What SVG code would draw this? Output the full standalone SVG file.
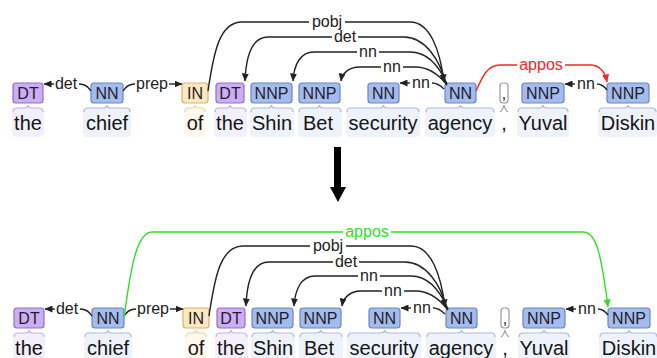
<svg xmlns="http://www.w3.org/2000/svg" width="657" height="358" viewBox="0 0 657 358">
  <style>
    .bg-dt { fill: #f4effd; }
    .bg-nn { fill: #eef2fb; }
    .bg-in { fill: #fff8ec; }
    .br { fill: none; stroke-width: 1.2; }
    .br-dt { stroke: #c6b0e8; }
    .br-nn { stroke: #aabadd; }
    .br-in { stroke: #ecd2a4; }
    .br-pu { stroke: #999999; }
    .box { stroke-width: 1.2; }
    .box-dt { fill: #ccadf6; stroke: #9270c9; }
    .box-nn { fill: #a4bced; stroke: #6a85c6; }
    .box-in { fill: #ffe8be; stroke: #d6b170; }
    .box-pu { fill: #ffffff; stroke: #999999; }
    .tag { font-family: "Liberation Sans", Arial, sans-serif; font-size: 16px; text-anchor: middle; fill: #1e1e2a; }
    .word { font-family: "Liberation Sans", Arial, sans-serif; font-size: 20px; text-anchor: middle; fill: #151515; }
    .arc { fill: none; stroke: #222222; stroke-width: 1.4; }
    .arc-red { stroke: #ff2222; }
    .arc-green { stroke: #33dd22; }
    .lbl { font-family: "Liberation Sans", Arial, sans-serif; font-size: 16px; text-anchor: middle; fill: #222222; }
    .lbl-red { fill: #ff2222; }
    .lbl-green { fill: #33dd22; }
  </style>
  <defs>
    <marker id="ah" viewBox="0 0 8 7" refX="7.5" refY="3.5" markerWidth="8" markerHeight="7" markerUnits="userSpaceOnUse" orient="auto">
      <path d="M0 0 L8 3.5 L0 7 z" fill="#222222"/>
    </marker>
    <marker id="ah-red" viewBox="0 0 8 7" refX="7.5" refY="3.5" markerWidth="8" markerHeight="7" markerUnits="userSpaceOnUse" orient="auto">
      <path d="M0 0 L8 3.5 L0 7 z" fill="#ff2222"/>
    </marker>
    <marker id="ah-green" viewBox="0 0 8 7" refX="7.5" refY="3.5" markerWidth="8" markerHeight="7" markerUnits="userSpaceOnUse" orient="auto">
      <path d="M0 0 L8 3.5 L0 7 z" fill="#33dd22"/>
    </marker>
  </defs>

  <!-- ===== Sentence before the transformation ===== -->
  <g id="before">
    <g id="a-the1">
      <rect class="bg-dt" x="12" y="108" width="32" height="29" rx="4"/>
      <path class="br br-dt" d="M13 112 Q13 108 17 108 L24 108 Q28 108 28 105 Q28 108 32 108 L39 108 Q43 108 43 112"/>
      <rect class="box box-dt" x="13" y="83" width="30" height="20" rx="3"/>
      <text class="tag" x="28" y="99">DT</text>
      <text class="word" x="28" y="130">the</text>
    </g>
    <g id="a-chief">
      <rect class="bg-nn" x="83" y="108" width="48" height="29" rx="4"/>
      <path class="br br-nn" d="M84 112 Q84 108 88 108 L103 108 Q107 108 107 105 Q107 108 111 108 L126 108 Q130 108 130 112"/>
      <rect class="box box-nn" x="91" y="83" width="32" height="20" rx="3"/>
      <text class="tag" x="107" y="99">NN</text>
      <text class="word" x="107" y="130">chief</text>
    </g>
    <g id="a-of">
      <rect class="bg-in" x="184" y="108" width="22" height="29" rx="4"/>
      <path class="br br-in" d="M185 112 Q185 108 189 108 L191 108 Q195 108 195 105 Q195 108 199 108 L201 108 Q205 108 205 112"/>
      <rect class="box box-in" x="182" y="83" width="26" height="20" rx="3"/>
      <text class="tag" x="195" y="99">IN</text>
      <text class="word" x="195" y="130">of</text>
    </g>
    <g id="a-the2">
      <rect class="bg-dt" x="214" y="108" width="33" height="29" rx="4"/>
      <path class="br br-dt" d="M215 112 Q215 108 219 108 L226 108 Q230 108 230 105 Q230 108 234 108 L242 108 Q246 108 246 112"/>
      <rect class="box box-dt" x="216" y="83" width="28" height="20" rx="3"/>
      <text class="tag" x="230" y="99">DT</text>
      <text class="word" x="230" y="130">the</text>
    </g>
    <g id="a-shin">
      <rect class="bg-nn" x="250" y="108" width="44" height="29" rx="4"/>
      <path class="br br-nn" d="M251 112 Q251 108 255 108 L267.5 108 Q271.5 108 271.5 105 Q271.5 108 275.5 108 L289 108 Q293 108 293 112"/>
      <rect class="box box-nn" x="251" y="83" width="41" height="20" rx="3"/>
      <text class="tag" x="271.5" y="99">NNP</text>
      <text class="word" x="272" y="130">Shin</text>
    </g>
    <g id="a-bet">
      <rect class="bg-nn" x="298" y="108" width="44" height="29" rx="4"/>
      <path class="br br-nn" d="M299 112 Q299 108 303 108 L315.5 108 Q319.5 108 319.5 105 Q319.5 108 323.5 108 L337 108 Q341 108 341 112"/>
      <rect class="box box-nn" x="299" y="83" width="41" height="20" rx="3"/>
      <text class="tag" x="319.5" y="99">NNP</text>
      <text class="word" x="318" y="130">Bet</text>
    </g>
    <g id="a-security">
      <rect class="bg-nn" x="346" y="108" width="74" height="29" rx="4"/>
      <path class="br br-nn" d="M347 112 Q347 108 351 108 L379.5 108 Q383.5 108 383.5 105 Q383.5 108 387.5 108 L415 108 Q419 108 419 112"/>
      <rect class="box box-nn" x="368" y="83" width="31" height="20" rx="3"/>
      <text class="tag" x="383.5" y="99">NN</text>
      <text class="word" x="383" y="130">security</text>
    </g>
    <g id="a-agency">
      <rect class="bg-nn" x="425" y="108" width="70" height="29" rx="4"/>
      <path class="br br-nn" d="M426 112 Q426 108 430 108 L456.5 108 Q460.5 108 460.5 105 Q460.5 108 464.5 108 L490 108 Q494 108 494 112"/>
      <rect class="box box-nn" x="445" y="83" width="31" height="20" rx="3"/>
      <text class="tag" x="460.5" y="99">NN</text>
      <text class="word" x="460" y="130">agency</text>
    </g>
    <g id="a-comma">
      <path class="br br-pu" d="M500 112 Q503 110 504 105 Q505 110 508 112"/>
      <rect class="box box-pu" x="500" y="83" width="8" height="20" rx="3"/>
      <text class="tag" x="504" y="99">,</text>
      <text class="word" x="504" y="130">,</text>
    </g>
    <g id="a-yuval">
      <rect class="bg-nn" x="517" y="108" width="52" height="29" rx="4"/>
      <path class="br br-nn" d="M518 112 Q518 108 522 108 L539 108 Q543 108 543 105 Q543 108 547 108 L564 108 Q568 108 568 112"/>
      <rect class="box box-nn" x="522" y="83" width="42" height="20" rx="3"/>
      <text class="tag" x="543" y="99">NNP</text>
      <text class="word" x="543" y="130">Yuval</text>
    </g>
    <g id="a-diskin">
      <rect class="bg-nn" x="598" y="108" width="59" height="29" rx="4"/>
      <path class="br br-nn" d="M599 112 Q599 108 603 108 L624 108 Q628 108 628 105 Q628 108 632 108 L652 108 Q656 108 656 112"/>
      <rect class="box box-nn" x="607" y="83" width="42" height="20" rx="3"/>
      <text class="tag" x="628" y="99">NNP</text>
      <text class="word" x="628" y="130">Diskin</text>
    </g>
  </g>

  <g id="before-arcs">
    <!-- det: chief -> the -->
    <path class="arc" d="M91 91 C88 86 84 84 79 84"/>
    <path class="arc" d="M54 84 L44 84" marker-end="url(#ah)"/>
    <text class="lbl" x="66" y="89">det</text>
    <!-- prep: chief -> of -->
    <path class="arc" d="M123 91 C126 86 130 84 135 84"/>
    <path class="arc" d="M169 84 L182 84" marker-end="url(#ah)"/>
    <text class="lbl" x="152" y="89">prep</text>
    <!-- pobj: of -> agency -->
    <path class="arc" d="M208 91 C214 50 220 22 242 22 L309 22"/>
    <path class="arc" d="M345 22 L410 22 C430 22 440 50 444 82" marker-end="url(#ah)"/>
    <text class="lbl" x="327" y="27">pobj</text>
    <!-- det: agency -> the -->
    <path class="arc" d="M332 37 L268 37 C252 37 246 55 245 81" marker-end="url(#ah)"/>
    <path class="arc" d="M358 37 L404 37 C425 37 440 60 446 84"/>
    <text class="lbl" x="345" y="42">det</text>
    <!-- nn: agency -> Shin -->
    <path class="arc" d="M357 52 L314 52 C300 52 294 65 293 81" marker-end="url(#ah)"/>
    <path class="arc" d="M379 52 L410 52 C428 52 440 68 447 84"/>
    <text class="lbl" x="368" y="57">nn</text>
    <!-- nn: agency -> Bet -->
    <path class="arc" d="M381 67 L360 67 C348 67 342 74 341 81" marker-end="url(#ah)"/>
    <path class="arc" d="M403 67 L415 67 C430 67 440 76 447 85"/>
    <text class="lbl" x="392" y="72">nn</text>
    <!-- nn: agency -> security -->
    <path class="arc" d="M410 83 L400 83" marker-end="url(#ah)"/>
    <path class="arc" d="M432 83 C437 83 441 86 444 89"/>
    <text class="lbl" x="421" y="88">nn</text>
    <!-- appos: agency -> Diskin -->
    <path class="arc arc-red" d="M476 91 C483 75 488 65 500 65 L517 65"/>
    <path class="arc arc-red" d="M565 65 L590 65 C600 65 605 72 607 82" marker-end="url(#ah-red)"/>
    <text class="lbl lbl-red" x="541" y="70">appos</text>
    <!-- nn: Diskin -> Yuval -->
    <path class="arc" d="M607 90 C604 86 601 84 597 84"/>
    <path class="arc" d="M575 84 L565 84" marker-end="url(#ah)"/>
    <text class="lbl" x="586" y="89">nn</text>
  </g>

  <!-- transformation arrow -->
  <path id="transform-arrow" d="M334 147 H341 V187 H346 L338 202 L330 187 H334 Z" fill="#000000"/>

  <!-- ===== Sentence after the transformation ===== -->
  <g id="after" transform="translate(1,225)">
    <g id="b-the1">
      <rect class="bg-dt" x="12" y="108" width="32" height="29" rx="4"/>
      <path class="br br-dt" d="M13 112 Q13 108 17 108 L24 108 Q28 108 28 105 Q28 108 32 108 L39 108 Q43 108 43 112"/>
      <rect class="box box-dt" x="13" y="83" width="30" height="20" rx="3"/>
      <text class="tag" x="28" y="99">DT</text>
      <text class="word" x="28" y="130">the</text>
    </g>
    <g id="b-chief">
      <rect class="bg-nn" x="83" y="108" width="48" height="29" rx="4"/>
      <path class="br br-nn" d="M84 112 Q84 108 88 108 L103 108 Q107 108 107 105 Q107 108 111 108 L126 108 Q130 108 130 112"/>
      <rect class="box box-nn" x="91" y="83" width="32" height="20" rx="3"/>
      <text class="tag" x="107" y="99">NN</text>
      <text class="word" x="107" y="130">chief</text>
    </g>
    <g id="b-of">
      <rect class="bg-in" x="184" y="108" width="22" height="29" rx="4"/>
      <path class="br br-in" d="M185 112 Q185 108 189 108 L191 108 Q195 108 195 105 Q195 108 199 108 L201 108 Q205 108 205 112"/>
      <rect class="box box-in" x="182" y="83" width="26" height="20" rx="3"/>
      <text class="tag" x="195" y="99">IN</text>
      <text class="word" x="195" y="130">of</text>
    </g>
    <g id="b-the2">
      <rect class="bg-dt" x="214" y="108" width="33" height="29" rx="4"/>
      <path class="br br-dt" d="M215 112 Q215 108 219 108 L226 108 Q230 108 230 105 Q230 108 234 108 L242 108 Q246 108 246 112"/>
      <rect class="box box-dt" x="216" y="83" width="28" height="20" rx="3"/>
      <text class="tag" x="230" y="99">DT</text>
      <text class="word" x="230" y="130">the</text>
    </g>
    <g id="b-shin">
      <rect class="bg-nn" x="250" y="108" width="44" height="29" rx="4"/>
      <path class="br br-nn" d="M251 112 Q251 108 255 108 L267.5 108 Q271.5 108 271.5 105 Q271.5 108 275.5 108 L289 108 Q293 108 293 112"/>
      <rect class="box box-nn" x="251" y="83" width="41" height="20" rx="3"/>
      <text class="tag" x="271.5" y="99">NNP</text>
      <text class="word" x="272" y="130">Shin</text>
    </g>
    <g id="b-bet">
      <rect class="bg-nn" x="298" y="108" width="44" height="29" rx="4"/>
      <path class="br br-nn" d="M299 112 Q299 108 303 108 L315.5 108 Q319.5 108 319.5 105 Q319.5 108 323.5 108 L337 108 Q341 108 341 112"/>
      <rect class="box box-nn" x="299" y="83" width="41" height="20" rx="3"/>
      <text class="tag" x="319.5" y="99">NNP</text>
      <text class="word" x="318" y="130">Bet</text>
    </g>
    <g id="b-security">
      <rect class="bg-nn" x="346" y="108" width="74" height="29" rx="4"/>
      <path class="br br-nn" d="M347 112 Q347 108 351 108 L379.5 108 Q383.5 108 383.5 105 Q383.5 108 387.5 108 L415 108 Q419 108 419 112"/>
      <rect class="box box-nn" x="368" y="83" width="31" height="20" rx="3"/>
      <text class="tag" x="383.5" y="99">NN</text>
      <text class="word" x="383" y="130">security</text>
    </g>
    <g id="b-agency">
      <rect class="bg-nn" x="425" y="108" width="70" height="29" rx="4"/>
      <path class="br br-nn" d="M426 112 Q426 108 430 108 L456.5 108 Q460.5 108 460.5 105 Q460.5 108 464.5 108 L490 108 Q494 108 494 112"/>
      <rect class="box box-nn" x="445" y="83" width="31" height="20" rx="3"/>
      <text class="tag" x="460.5" y="99">NN</text>
      <text class="word" x="460" y="130">agency</text>
    </g>
    <g id="b-comma">
      <path class="br br-pu" d="M500 112 Q503 110 504 105 Q505 110 508 112"/>
      <rect class="box box-pu" x="500" y="83" width="8" height="20" rx="3"/>
      <text class="tag" x="504" y="99">,</text>
      <text class="word" x="504" y="130">,</text>
    </g>
    <g id="b-yuval">
      <rect class="bg-nn" x="517" y="108" width="52" height="29" rx="4"/>
      <path class="br br-nn" d="M518 112 Q518 108 522 108 L539 108 Q543 108 543 105 Q543 108 547 108 L564 108 Q568 108 568 112"/>
      <rect class="box box-nn" x="522" y="83" width="42" height="20" rx="3"/>
      <text class="tag" x="543" y="99">NNP</text>
      <text class="word" x="543" y="130">Yuval</text>
    </g>
    <g id="b-diskin">
      <rect class="bg-nn" x="598" y="108" width="59" height="29" rx="4"/>
      <path class="br br-nn" d="M599 112 Q599 108 603 108 L624 108 Q628 108 628 105 Q628 108 632 108 L652 108 Q656 108 656 112"/>
      <rect class="box box-nn" x="607" y="83" width="42" height="20" rx="3"/>
      <text class="tag" x="628" y="99">NNP</text>
      <text class="word" x="628" y="130">Diskin</text>
    </g>

    <g id="after-arcs">
      <path class="arc" d="M91 91 C88 86 84 84 79 84"/>
      <path class="arc" d="M54 84 L44 84" marker-end="url(#ah)"/>
      <text class="lbl" x="66" y="89">det</text>
      <path class="arc" d="M123 91 C126 86 130 84 135 84"/>
      <path class="arc" d="M169 84 L182 84" marker-end="url(#ah)"/>
      <text class="lbl" x="152" y="89">prep</text>
      <path class="arc" d="M208 91 C214 50 220 21 242 21 L309 21"/>
      <path class="arc" d="M345 21 L410 21 C430 21 440 50 444 82" marker-end="url(#ah)"/>
      <text class="lbl" x="327" y="26">pobj</text>
      <path class="arc" d="M332 37 L268 37 C252 37 246 55 245 81" marker-end="url(#ah)"/>
      <path class="arc" d="M358 37 L404 37 C425 37 440 60 446 84"/>
      <text class="lbl" x="345" y="42">det</text>
      <path class="arc" d="M357 51 L314 51 C300 51 294 65 293 81" marker-end="url(#ah)"/>
      <path class="arc" d="M379 51 L410 51 C428 51 440 68 447 84"/>
      <text class="lbl" x="368" y="56">nn</text>
      <path class="arc" d="M381 66 L360 66 C348 66 342 74 341 81" marker-end="url(#ah)"/>
      <path class="arc" d="M403 66 L415 66 C430 66 440 76 447 85"/>
      <text class="lbl" x="392" y="71">nn</text>
      <path class="arc" d="M410 83 L400 83" marker-end="url(#ah)"/>
      <path class="arc" d="M432 83 C437 83 441 86 444 89"/>
      <text class="lbl" x="421" y="88">nn</text>
      <path class="arc" d="M607 90 C604 86 601 84 597 84"/>
      <path class="arc" d="M575 84 L565 84" marker-end="url(#ah)"/>
      <text class="lbl" x="586" y="89">nn</text>
      <!-- appos: chief -> Diskin -->
      <path class="arc arc-green" d="M123 92 C128 60 133 7 151 7 L342 7"/>
      <path class="arc arc-green" d="M390 7 L582 7 C595 7 600 27 607 82" marker-end="url(#ah-green)"/>
      <text class="lbl lbl-green" x="366" y="12">appos</text>
    </g>
  </g>
</svg>
